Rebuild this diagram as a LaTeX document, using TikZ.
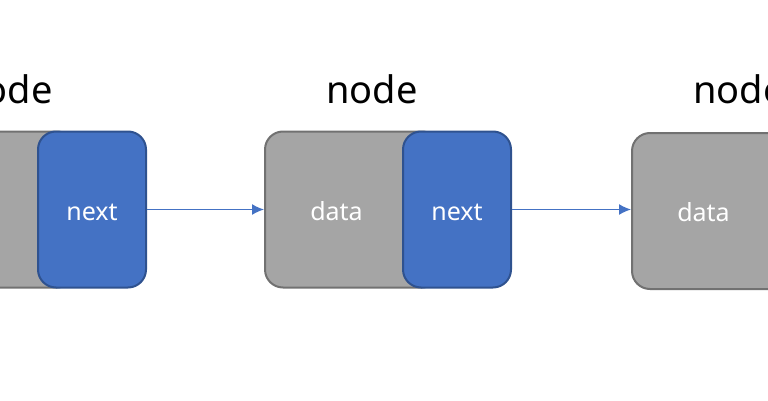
\documentclass[tikz,border=0pt]{standalone}
\usepackage{fontspec}
\setmainfont{Noto Sans}
\usetikzlibrary{arrows.meta}
\definecolor{cellgray}{HTML}{A5A5A5}
\definecolor{cellgrayline}{HTML}{717171}
\definecolor{cellblue}{HTML}{4472C4}
\definecolor{cellblueline}{HTML}{2F528F}

\begin{document}
\begin{tikzpicture}[x=1pt, y=1pt,
  databox/.style={draw=cellgrayline, line width=2pt, fill=cellgray, rounded corners=18pt, minimum width=175pt, minimum height=156pt, inner sep=0pt},
  nextbox/.style={draw=cellblueline, line width=2pt, fill=cellblue, rounded corners=18pt, minimum width=108pt, minimum height=156pt, inner sep=0pt},
  celltext/.style={text=white, font=\fontsize{25}{30}\selectfont},
  title/.style={anchor=base, font=\fontsize{38}{46}\selectfont}]
\useasboundingbox (0,0) rectangle (768,400);
\clip (0,0) rectangle (768,400);

\node[databox] (d1) at (-12.5,190.5) {};
\node[nextbox] (n1) at (92,190.5) {};
\node[celltext] (m1) at ([yshift=-3pt]n1.center) {next};
\node[title] (t1) at (7,297) {node};

\node[databox] (d2) at (352.5,190.5) {};
\node[celltext] (c2) at ([xshift=-16pt,yshift=-2pt]d2.center) {data};
\node[nextbox] (n2) at (457,190.5) {};
\node[celltext] (m2) at ([yshift=-3pt]n2.center) {next};
\node[title] (t2) at (372,297) {node};

\node[databox] (d3) at (719.5,189) {};
\node[celltext] (c3) at ([xshift=-16pt,yshift=-1pt]d3.center) {data};
\node[title] (t3) at (739,297) {node};

\path[draw=cellblue, line width=1.4pt, -{Latex[length=12pt,width=11pt]}] (n1.east) -- (d2.west);
\path[draw=cellblue, line width=1.4pt, -{Latex[length=12pt,width=11pt]}] (n2.east) -- (d3.west |- n2.east);

\end{tikzpicture}
\end{document}
